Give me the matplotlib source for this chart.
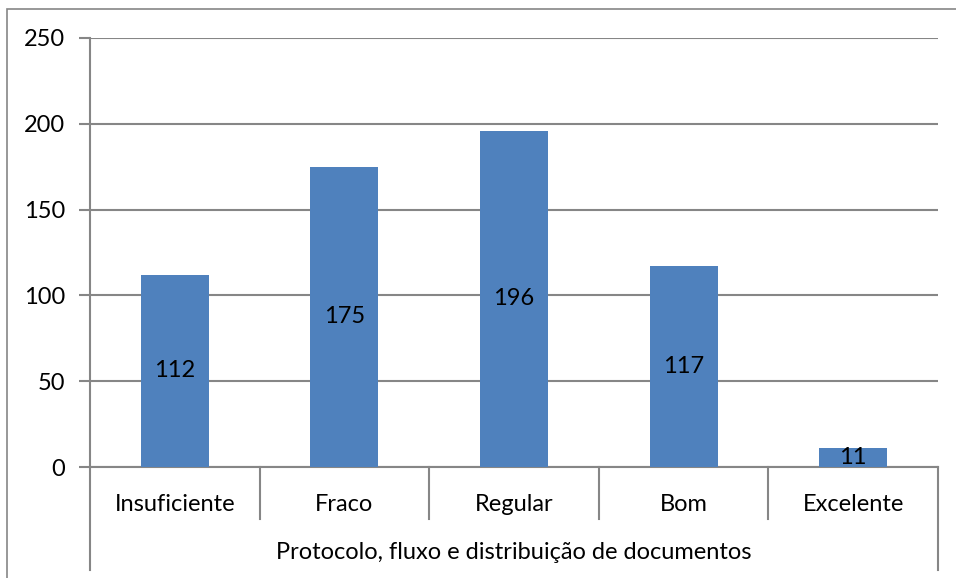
import numpy as np
import matplotlib.pyplot as plt
from matplotlib.patches import Rectangle

categories = ['Insuficiente', 'Fraco', 'Regular', 'Bom', 'Excelente']
values = [112, 175, 196, 117, 11]
group_label = 'Protocolo, fluxo e distribuição de documentos'
yticks = [0, 50, 100, 150, 200, 250]


def main():
  plt.rcParams['font.family'] = ['Lato', 'DejaVu Sans']
  fig = plt.figure(figsize=(9.56, 5.78), dpi=100)
  ax = fig.add_axes([90/956, 1-467/578, 848/956, 429/578])
  grey = '#868686'
  fs = 17

  ind = np.arange(len(categories))
  bars = ax.bar(ind, values, 0.4, color='#4F81BD', zorder=3)
  ax.set_xlim(-0.5, len(ind)-0.5)
  ax.set_ylim(0, 250)
  ax.set_yticks(yticks)
  ax.yaxis.grid(True, color=grey, lw=1.5)
  ax.set_axisbelow(True)
  ax.tick_params(axis='y', length=8, width=1.5, color=grey, labelsize=fs, pad=10)
  ax.set_xticks([])
  for s in ['top', 'right']:
    ax.spines[s].set_visible(False)
  for s in ['left', 'bottom']:
    ax.spines[s].set_color(grey)
    ax.spines[s].set_linewidth(1.5)

  # value labels in the middle of each bar
  for b, v in zip(bars, values):
    ax.text(b.get_x() + b.get_width()/2, v/2, str(v), ha='center', va='center',
            fontsize=fs, zorder=4)

  # category boxes below the axis
  tr = ax.get_xaxis_transform()
  for i in range(1, len(ind)):
    ax.plot([i-0.5, i-0.5], [0, -0.121], color=grey, lw=1.5, transform=tr, clip_on=False)
  for x in [-0.5, len(ind)-0.5]:
    ax.plot([x, x], [0, -0.240], color=grey, lw=1.5, transform=tr, clip_on=False)
  for i, c in enumerate(categories):
    ax.text(i, -0.087, c, ha='center', va='center', fontsize=fs, transform=tr)
  ax.text((len(ind)-1)/2, -0.200, group_label, ha='center', va='center',
          fontsize=fs, transform=tr)

  # outer chart border
  fig.patches.append(Rectangle((7/956, -0.05), 1.1, 1-9/578+0.05, transform=fig.transFigure,
                               fill=False, edgecolor=grey, lw=1.2))

  plt.savefig('out.png', dpi=100)


if __name__ == "__main__":
  main()
